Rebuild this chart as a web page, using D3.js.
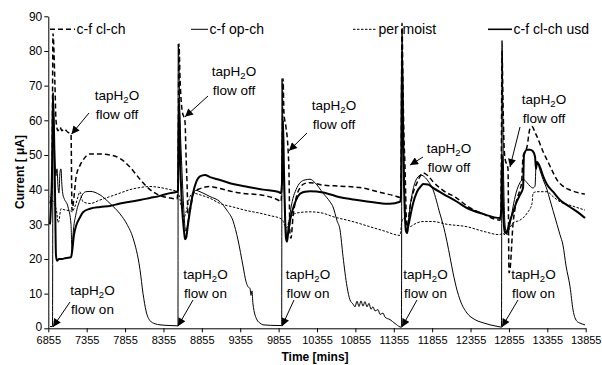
<!DOCTYPE html>
<html>
<head>
<meta charset="utf-8">
<script src="https://cdn.jsdelivr.net/npm/d3@7"></script>
<style>
  body { margin: 0; background: #fff; }
  svg text { font-family: Arial, "Liberation Sans", sans-serif; fill: #000; }
</style>
</head>
<body>
<svg id="chart" width="602" height="365"></svg>
<script>
// ---- data: time [mins] vs current [µA] ----
const xTickValues = [6855, 7355, 7855, 8355, 8855, 9355, 9855, 10355, 10855, 11355, 11855, 12355, 12855, 13355, 13855];
const yTickValues = [0, 10, 20, 30, 40, 50, 60, 70, 80, 90];
const seriesNames = ["c-f cl-ch", "c-f op-ch", "per moist", "c-f cl-ch usd"];

// c-f cl-ch
const cfClCh = [
  [6877,36],[6903,40],[6916,85],[6942,70],[6955,60],[6981,57],[7007,58],[7033,57],[7060,57.5],[7112,56.5],[7151,56],[7164,34],[7190,38],[7216,43.5],[7268,47],[7307,48.5],[7398,50.3],[7528,50.3],[7659,50],[7789,49],[7919,46.5],[8049,43],[8180,40],[8310,38.3],[8440,37.6],[8531,37.3],
  [8544,40],[8557,82],[8571,72],[8597,63],[8636,59.5],[8649,50],[8662,42],[8675,33],[8701,34],[8740,38.5],[8779,39.8],[8831,40.3],[8961,40.9],[9092,40.3],[9261,39.4],[9391,38.9],[9613,38.5],[9847,37],[9886,36.5],
  [9899,45],[9912,72],[9925,62],[9951,58],[9977,52],[9990,45],[10003,27],[10016,26],[10042,32],[10082,37.5],[10134,40.5],[10199,41.8],[10264,42],[10433,41.3],[10655,41],[10915,40.6],[11215,39],[11371,38.2],[11436,37.8],
  [11449,40],[11462,88],[11475,70],[11488,55],[11501,47],[11514,35],[11527,27],[11540,30],[11567,35],[11606,39],[11658,42],[11710,44.3],[11736,44.8],[11801,44],[11866,42.3],[11996,39.8],[12179,37.5],[12309,35.3],[12517,33],[12739,31.2],
  [12752,35],[12765,80],[12778,65],[12791,53],[12804,49],[12843,46],[12856,16],[12869,17],[12908,30],[12947,36],[12999,40],[13020,42],[13039,49.5],[13091,52.4],[13130,57.7],[13156,58.2],[13195,56.5],[13221,55.3],[13299,51],[13351,48.6],[13429,45],[13481,42.8],[13559,41],[13651,39.9],[13781,39],[13846,38.7]
];

// c-f op-ch
const cfOpCh = [
  [6877,0.5],[6910,0.5],[6916,66],[6942,48],[6955,44],[6968,46],[6981,41],[6994,39],[7007,45],[7020,46],[7033,41],[7046,38.5],[7060,37.5],[7112,35],[7151,30],[7164,22],[7177,27],[7216,33],[7268,37],[7307,38.8],[7346,39.4],[7398,39.5],[7528,38.5],[7659,36],[7789,33],[7880,30],[7959,26],[8049,17],[8089,10],[8128,5],[8180,2.2],[8245,1.3],[8310,1],[8440,0.8],[8544,0.7],
  [8547,82],[8571,60],[8597,45],[8623,33],[8636,29],[8649,28],[8675,31],[8701,35],[8740,39],[8779,39.8],[8831,39.4],[8961,38],[9092,36.5],[9183,34],[9261,31],[9326,25.5],[9391,18],[9430,13.5],[9456,12],[9482,11.5],[9495,9.5],[9508,10.8],[9521,7],[9574,2.4],[9613,1.5],[9652,1],[9847,0.8],[9895,0.8],
  [9899,72],[9912,55],[9925,42],[9938,34],[9951,28],[9964,26.5],[9977,28.5],[10003,33],[10042,37.5],[10082,40],[10134,42],[10199,42.8],[10264,43],[10329,42],[10433,39],[10524,36.5],[10564,35],[10616,31],[10655,28.4],[10694,20.7],[10746,12],[10785,8.2],[10824,7],[10850,6.2],[10876,7.8],[10902,6.3],[10928,7.9],[10954,6.4],[10980,7.7],[11006,6.2],[11032,7.2],[11058,5.5],[11084,6.2],[11111,5],[11150,5.4],[11176,4],[11215,4.4],[11241,3.2],[11306,2.5],[11371,1.4],[11436,0.4],[11455,0.3],
  [11462,86],[11475,62],[11488,45],[11501,35],[11514,29],[11527,28],[11540,30],[11567,35],[11606,40],[11658,43.3],[11710,44.2],[11736,44],[11801,42.5],[11866,40],[11957,33],[11996,30],[12048,25],[12088,20.5],[12127,16],[12179,11],[12218,8.2],[12309,4.4],[12413,2.5],[12517,1.6],[12609,1],[12739,0.4],[12758,0.3],
  [12765,83],[12778,55],[12791,38],[12804,30],[12830,27],[12869,30],[12908,35],[12947,39],[12999,42],[13039,43],[13091,42],[13130,41],[13169,40.5],[13195,41],[13208,47],[13221,48],[13260,45.5],[13299,43],[13351,40],[13390,37],[13429,34],[13481,30],[13520,27],[13559,24],[13599,18],[13651,12],[13690,5.3],[13742,2],[13781,1.5],[13846,1]
];

// per moist
const perMoist = [
  [6877,38],[6903,37],[6942,35.5],[6968,33],[6981,30.5],[6994,31],[7020,34.5],[7060,34.2],[7112,34],[7151,33.8],[7164,33.5],[7190,34.5],[7216,36],[7242,38],[7268,39.4],[7290,37.5],[7307,36.5],[7398,36],[7528,37],[7659,38],[7789,39],[7919,40],[8049,40.6],[8180,40.9],[8310,40.6],[8440,40],[8531,39.5],
  [8557,38.5],[8597,34],[8623,32],[8649,33.5],[8675,36],[8701,38],[8740,39],[8831,38.5],[8961,37.5],[9092,36],[9261,35],[9430,34],[9613,33.2],[9743,32.5],[9886,31.6],
  [9912,31],[9938,29.5],[9964,29],[9990,31],[10016,32.2],[10082,33.2],[10134,33.4],[10264,33.6],[10433,33.2],[10564,32.2],[10785,31],[11045,29.3],[11241,28],[11436,26.8],
  [11462,31],[11488,31.8],[11514,30.5],[11540,29.5],[11567,29.3],[11606,29.8],[11658,30.4],[11736,30.8],[11866,30.8],[12048,30],[12309,29.3],[12517,28],[12739,27],
  [12765,27.5],[12804,27],[12869,29],[12908,30.4],[12999,31.2],[13091,33.2],[13156,36],[13169,39],[13221,39.4],[13351,39.4],[13429,38],[13520,36.5],[13651,35.5],[13846,34.1]
];

// c-f cl-ch usd
const cfClChUsd = [
  [6877,30],[6903,45],[6916,68],[6942,40],[6955,21],[6968,19.5],[6994,20],[7033,20],[7086,20.3],[7151,20.5],[7164,22],[7190,27],[7216,29.5],[7268,32],[7307,33.5],[7398,34.5],[7528,35],[7659,35.3],[7789,36],[7919,36.5],[8049,37],[8180,37.6],[8310,38.2],[8440,39],[8531,39.4],
  [8544,40],[8557,65],[8571,50],[8597,35],[8623,28],[8636,25.7],[8649,26],[8675,30],[8701,34],[8740,39],[8779,42],[8831,43.8],[8896,44.2],[8961,43.6],[9092,42.8],[9261,41.6],[9430,40.9],[9652,40],[9847,39.4],[9886,39],
  [9899,42],[9912,60],[9925,45],[9938,33],[9951,26],[9964,25],[9977,27],[10003,31],[10042,34.5],[10082,37],[10134,38.8],[10199,39.4],[10264,39.5],[10433,39.2],[10655,37.8],[10876,37],[11111,36.3],[11306,35.9],[11436,36.5],
  [11449,38],[11462,80],[11475,60],[11488,42],[11501,32],[11514,28],[11527,27.5],[11540,29],[11567,32],[11606,36],[11658,39.4],[11710,41],[11736,41.6],[11801,41.5],[11866,40.5],[11996,38.8],[12179,36.5],[12309,34.7],[12517,33],[12739,31.8],
  [12752,33],[12765,50],[12778,35],[12791,29.3],[12804,27.5],[12830,28],[12869,31],[12908,33.5],[12947,36],[12999,38.5],[13039,40.5],[13051,50],[13091,51.5],[13130,51.5],[13169,51],[13195,49.5],[13208,46],[13221,48],[13260,46.5],[13299,44],[13351,41.5],[13429,39.4],[13520,37],[13651,35],[13781,33],[13846,31.8]
];

// event notes: where each arrow points (time, current)
const flowOffTips = [[7157,56],[8636,61],[9990,51.2],[11567,47.1],[12869,46.5]];
const flowOnTips  = [[6916,0.4],[8544,0.6],[9899,0.6],[11462,0.4],[12765,0.4]];

// ---- layout ----
const svg = d3.select("#chart");
const x = d3.scaleLinear().domain([6855, 13855]).range([48.3, 585.7]);
const y = d3.scaleLinear().domain([0, 90]).range([328.3, 16.3]);

const styles = [
  { width: 1.5, dash: "5,3" },
  { width: 1,   dash: null },
  { width: 1,   dash: "2.5,1.5" },
  { width: 2,   dash: null }
];
const legendWidth = [1.5, 1, 1, 1.6];
const allSeries = [cfClCh, cfOpCh, perMoist, cfClChUsd];

// axes
const yAxis = d3.axisLeft(y).tickValues(yTickValues).tickSize(4).tickSizeOuter(0).tickPadding(2);
const xAxis = d3.axisBottom(x).tickValues(xTickValues).tickFormat(d3.format("d")).tickSize(4).tickSizeOuter(0).tickPadding(4);

const gy = svg.append("g").attr("transform", "translate(48.3,0)").call(yAxis);
gy.selectAll("text").style("font-size", "12px");
gy.selectAll(".tick").filter(d => d === 0).select("text").attr("dy", "0.2em");
const gx = svg.append("g").attr("transform", "translate(0,328.3)").call(xAxis);
gx.selectAll("text").style("font-size", "11px");
svg.selectAll(".domain, .tick line").attr("stroke", "#000").attr("stroke-width", 1);

// series lines
const line = d3.line().x(d => x(d[0])).y(d => y(d[1])).curve(d3.curveMonotoneX);
const drawOrder = [2, 1, 0, 3];
drawOrder.forEach(i => {
  svg.append("path")
    .datum(allSeries[i])
    .attr("d", line)
    .attr("fill", "none")
    .attr("stroke", "#000")
    .attr("stroke-width", styles[i].width)
    .attr("stroke-dasharray", styles[i].dash)
    .attr("stroke-linejoin", "round");
});

// legend row
const legendPos = [[50, 75], [191, 208], [353, 377], [488, 512]];
seriesNames.forEach((name, i) => {
  const [x0, x1] = legendPos[i];
  svg.append("line").attr("x1", x0).attr("x2", x1).attr("y1", 29.3).attr("y2", 29.3)
    .attr("stroke", "#000").attr("stroke-width", legendWidth[i])
    .attr("stroke-dasharray", styles[i].dash);
  svg.append("text").attr("x", x1 + 1.5).attr("y", 34).style("font-size", "14px").text(name);
});

// axis titles
svg.append("text").attr("transform", "translate(23.5,172) rotate(-90)")
  .attr("text-anchor", "middle").style("font-size", "12px").style("font-weight", "bold")
  .text("Current [ \u03bcA]");
svg.append("text").attr("x", 315).attr("y", 361)
  .attr("text-anchor", "middle").style("font-size", "12px").style("font-weight", "bold")
  .text("Time [mins]");

// arrows
const defs = svg.append("defs");
defs.append("marker").attr("id", "head").attr("viewBox", "0 0 10 10")
  .attr("refX", 10).attr("refY", 5).attr("markerUnits", "userSpaceOnUse")
  .attr("markerWidth", 9).attr("markerHeight", 8).attr("orient", "auto")
  .append("path").attr("d", "M0,0 L10,5 L0,10 z").attr("fill", "#000");

function note(cx, base, second, tail, tip) {
  const t = svg.append("text").attr("x", cx).attr("y", base).attr("text-anchor", "middle").style("font-size", "13.5px");
  t.append("tspan").text("tapH");
  t.append("tspan").attr("dy", 3).style("font-size", "9.5px").text("2");
  t.append("tspan").attr("dy", -3).text("O");
  svg.append("text").attr("x", cx).attr("y", base + 19).attr("text-anchor", "middle").style("font-size", "13.5px").text(second);
  svg.append("line")
    .attr("x1", tail[0]).attr("y1", tail[1])
    .attr("x2", x(tip[0])).attr("y2", y(tip[1]))
    .attr("stroke", "#000").attr("stroke-width", 1)
    .attr("marker-end", "url(#head)");
}

// flow-off labels: centre x, first baseline, arrow tail
const offLabel = [[117, 100, [89, 113]], [234, 76, [208, 96]], [334, 110, [307, 133]], [449, 153, [423, 157]], [544, 104, [520, 127]]];
offLabel.forEach((p, i) => note(p[0], p[1], "flow off", p[2], flowOffTips[i]));
const onLabel = [[92.5, 295, [70, 302]], [205.5, 279, [193, 300]], [308, 279, [294, 300]], [425.5, 279, [417, 300]], [533.5, 279, [518, 300]]];
onLabel.forEach((p, i) => note(p[0], p[1], "flow on", p[2], flowOnTips[i]));
</script>
</body>
</html>
